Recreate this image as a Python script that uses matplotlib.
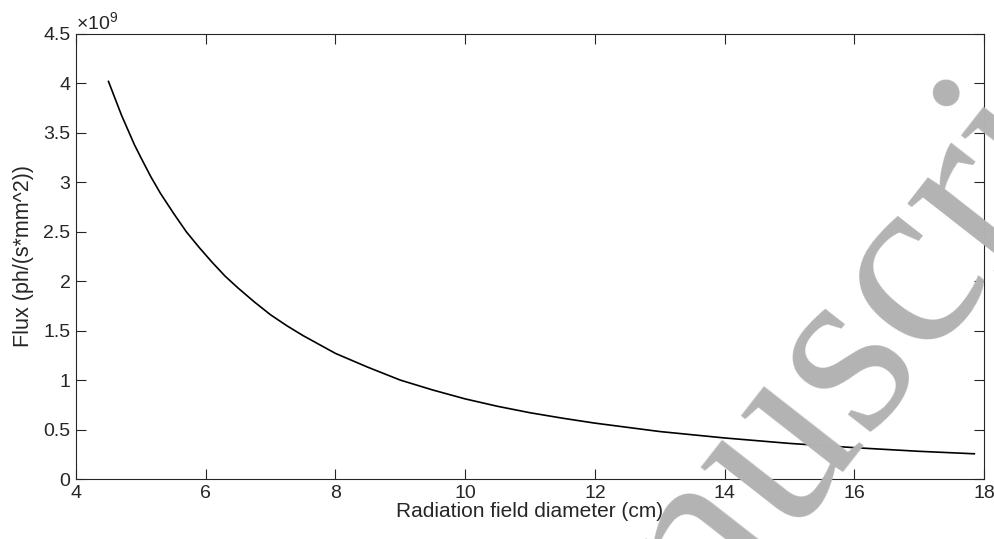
import matplotlib.pyplot as plt

plt.rcParams['font.family'] = ['Liberation Sans', 'DejaVu Sans']
plt.rcParams['mathtext.fontset'] = 'custom'
plt.rcParams['mathtext.rm'] = 'Liberation Sans'

# Radiation field diameter (cm) vs flux (x 1e9 ph/(s*mm^2))
diameter_cm = [4.5, 4.6, 4.7, 4.8, 4.9, 5.0, 5.15, 5.3, 5.5, 5.7, 5.9, 6.1, 6.3,
               6.5, 6.75, 7.0, 7.25, 7.5, 7.75, 8.0, 8.5, 9.0, 9.5, 10.0, 10.5,
               11.0, 11.5, 12.0, 13.0, 14.0, 15.0, 16.0, 17.0, 17.85]
flux_e9 = [4.02, 3.85, 3.68, 3.53, 3.38, 3.25, 3.06, 2.89, 2.69, 2.50, 2.34, 2.19, 2.05,
           1.93, 1.79, 1.66, 1.55, 1.45, 1.36, 1.27, 1.13, 1.00, 0.90, 0.81, 0.735,
           0.67, 0.615, 0.565, 0.48, 0.415, 0.36, 0.317, 0.28, 0.255]

x_ticks = [4, 6, 8, 10, 12, 14, 16, 18]
y_ticks = [0, 0.5, 1, 1.5, 2, 2.5, 3, 3.5, 4, 4.5]
y_tick_labels = ['0', '0.5', '1', '1.5', '2', '2.5', '3', '3.5', '4', '4.5']

axis_col = '#262626'

fig = plt.figure(figsize=(9.94, 5.39), dpi=100)

# faint watermark behind the chart
fig.text(0.509, -0.662, 'Manuscript', fontsize=180, family='Liberation Serif',
         color='#b3b3b3', rotation=52, rotation_mode='anchor',
         ha='left', va='baseline', zorder=0)

ax = fig.add_axes([0.0765, 0.1113, 0.9135, 0.8257])
ax.patch.set_alpha(0)
ax.plot(diameter_cm, flux_e9, color='black', linewidth=1.2)

ax.set_xlim(4, 18)
ax.set_ylim(0, 4.5)
ax.set_xticks(x_ticks)
ax.set_yticks(y_ticks)
ax.set_yticklabels(y_tick_labels)

for s in ax.spines.values():
    s.set_color(axis_col)
    s.set_linewidth(0.8)
ax.tick_params(direction='in', length=7, width=0.8, color=axis_col,
               labelcolor=axis_col, labelsize=14, top=True, right=True, pad=4)

ax.set_xlabel('Radiation field diameter (cm)', fontsize=15, color=axis_col, labelpad=0)
ax.set_ylabel('Flux (ph/(s*mm^2))', fontsize=15.5, color=axis_col, labelpad=7)
ax.text(0.0, 1.0, r'$\times10^{9}$', transform=ax.transAxes, fontsize=14,
        color=axis_col, ha='left', va='bottom')

fig.savefig('out.png', dpi=100)
